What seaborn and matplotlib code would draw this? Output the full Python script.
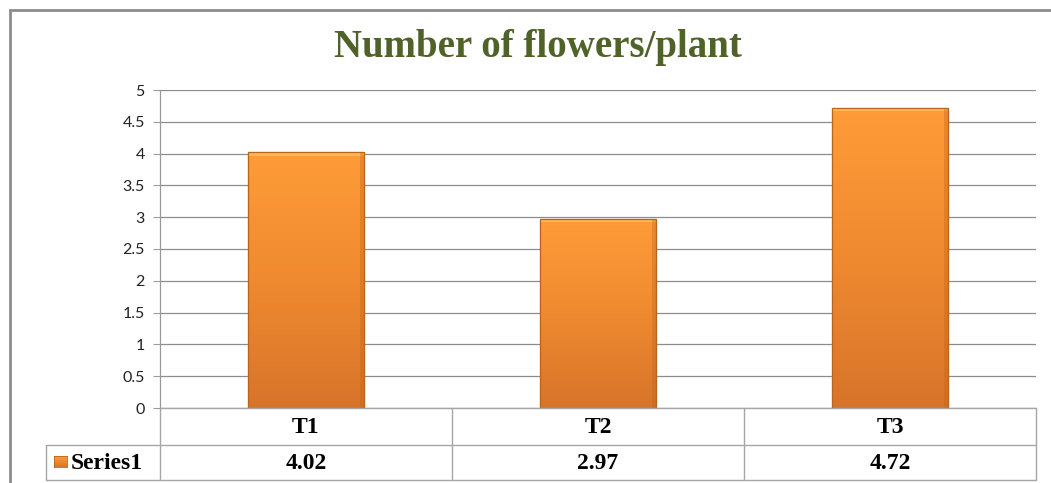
import numpy as np
import pandas as pd
import matplotlib
matplotlib.use("Agg")
import matplotlib.pyplot as plt
import seaborn as sns
from matplotlib.patches import Rectangle
from matplotlib.colors import LinearSegmentedColormap

categories = ["T1", "T2", "T3"]
values = [4.02, 2.97, 4.72]
series_name = "Series1"
title = "Number of flowers/plant"
yticks = [0, 0.5, 1, 1.5, 2, 2.5, 3, 3.5, 4, 4.5, 5]
ytick_labels = ["0", "0.5", "1", "1.5", "2", "2.5", "3", "3.5", "4", "4.5", "5"]

sns.set_theme(style="white")
plt.rcParams["font.family"] = ["Lato", "DejaVu Sans"]

W, H = 1051, 483
fig = plt.figure(figsize=(W / 100, H / 100), dpi=100)
fig.patch.set_facecolor("white")

def fx(px):
    return px / W

def fy(py):
    return 1 - py / H

ax_l, ax_r, ax_t, ax_b = 160, 1036, 90, 408
ax = fig.add_axes([fx(ax_l), fy(ax_b), fx(ax_r) - fx(ax_l), fy(ax_t) - fy(ax_b)])

df = pd.DataFrame({"cat": categories, "val": values})
sns.barplot(data=df, x="cat", y="val", ax=ax, width=0.40, color="#F79433",
            edgecolor="#B86A22", linewidth=0.8, zorder=3)

ax.set_ylim(0, 5)
ax.set_xlim(-0.5, len(categories) - 0.5)
ax.set_yticks(yticks)
ax.set_yticklabels(ytick_labels, fontsize=11.5, color="#222222")
ax.set_xticks([])
ax.set_xlabel("")
ax.set_ylabel("")
ax.tick_params(axis="y", length=5, width=0.8, color="#9A9A9A", direction="out", pad=6, left=True)
ax.grid(axis="y", color="#8C8C8C", linewidth=0.9, zorder=0)
ax.set_axisbelow(True)
for s in ["top", "right", "bottom"]:
    ax.spines[s].set_visible(False)
ax.spines["left"].set_color("#9A9A9A")
ax.spines["left"].set_linewidth(0.9)

# gradient fill on bars
cmap = LinearSegmentedColormap.from_list("og", ["#D8742A", "#EF8A30", "#FF9C38"])
grad = np.linspace(0, 1, 256).reshape(-1, 1)
for p in list(ax.patches):
    x0, y0 = p.get_x(), p.get_y()
    w, h = p.get_width(), p.get_height()
    im = ax.imshow(grad, extent=[x0, x0 + w, y0, y0 + h], origin="lower",
                   cmap=cmap, aspect="auto", zorder=3.5)
    im.set_clip_path(p)
    hl = Rectangle((x0, y0 + h - 0.05), w, 0.05, facecolor="#FFC060", edgecolor="none",
                   zorder=3.6, alpha=0.8)
    ax.add_patch(hl)
    sh = Rectangle((x0 + w * 0.96, y0), w * 0.04, h, facecolor="#B8661F", edgecolor="none",
                   zorder=3.6, alpha=0.35)
    ax.add_patch(sh)
    ol = Rectangle((x0, y0), w, h, facecolor="none", edgecolor="#B8661F", linewidth=0.9, zorder=3.7)
    ax.add_patch(ol)
ax.set_xlim(-0.5, len(categories) - 0.5)
ax.set_ylim(0, 5)

# data table below
line_kw = dict(color="#A6A6A6", linewidth=1.0, transform=fig.transFigure, clip_on=False)
r1_top, r1_bot, r2_bot = 408, 445, 480
tab_left = 46
col_w = (ax_r - ax_l) / len(categories)
fig.add_artist(plt.Line2D([fx(ax_l), fx(ax_r)], [fy(r1_top), fy(r1_top)], **line_kw))
fig.add_artist(plt.Line2D([fx(tab_left), fx(ax_r)], [fy(r1_bot), fy(r1_bot)], **line_kw))
fig.add_artist(plt.Line2D([fx(tab_left), fx(ax_r)], [fy(r2_bot), fy(r2_bot)], **line_kw))
fig.add_artist(plt.Line2D([fx(tab_left), fx(tab_left)], [fy(r1_bot), fy(r2_bot)], **line_kw))
for i in range(len(categories) + 1):
    xx = ax_l + i * col_w
    top = r1_top if i > 0 else ax_b
    fig.add_artist(plt.Line2D([fx(xx), fx(xx)], [fy(top), fy(r2_bot)], **line_kw))

serif = ["Liberation Serif", "DejaVu Serif"]
for i, (c, v) in enumerate(zip(categories, values)):
    cx = ax_l + (i + 0.5) * col_w
    fig.text(fx(cx), fy((r1_top + r1_bot) / 2 + 1), c, ha="center", va="center",
             fontsize=17, fontweight="bold", family=serif, color="black")
    fig.text(fx(cx), fy((r1_bot + r2_bot) / 2 + 1), f"{v:.2f}", ha="center", va="center",
             fontsize=17, fontweight="bold", family=serif, color="black")

# legend key + series name
key = fig.add_axes([fx(54), fy(467), fx(13), fy(456) - fy(467)])
key.imshow(grad, origin="lower", cmap=cmap, aspect="auto")
key.set_xticks([]); key.set_yticks([])
for s in key.spines.values():
    s.set_color("#B8661F"); s.set_linewidth(0.6)
fig.text(fx(71), fy((r1_bot + r2_bot) / 2 + 1), series_name, ha="left", va="center",
         fontsize=17, fontweight="bold", family=serif, color="black")

# title
fig.text(fx(538), fy(47), title, ha="center", va="center", fontsize=28,
         fontweight="bold", family=serif, color="#4F6228")

# outer chart frame
fig.add_artist(Rectangle((fx(10), fy(H + 20)), fx(W + 20), fy(10) - fy(H + 20),
                         transform=fig.transFigure, facecolor="none",
                         edgecolor="#8C8C8C", linewidth=2.0, clip_on=False))

fig.savefig("out.png", dpi=100, facecolor="white")
